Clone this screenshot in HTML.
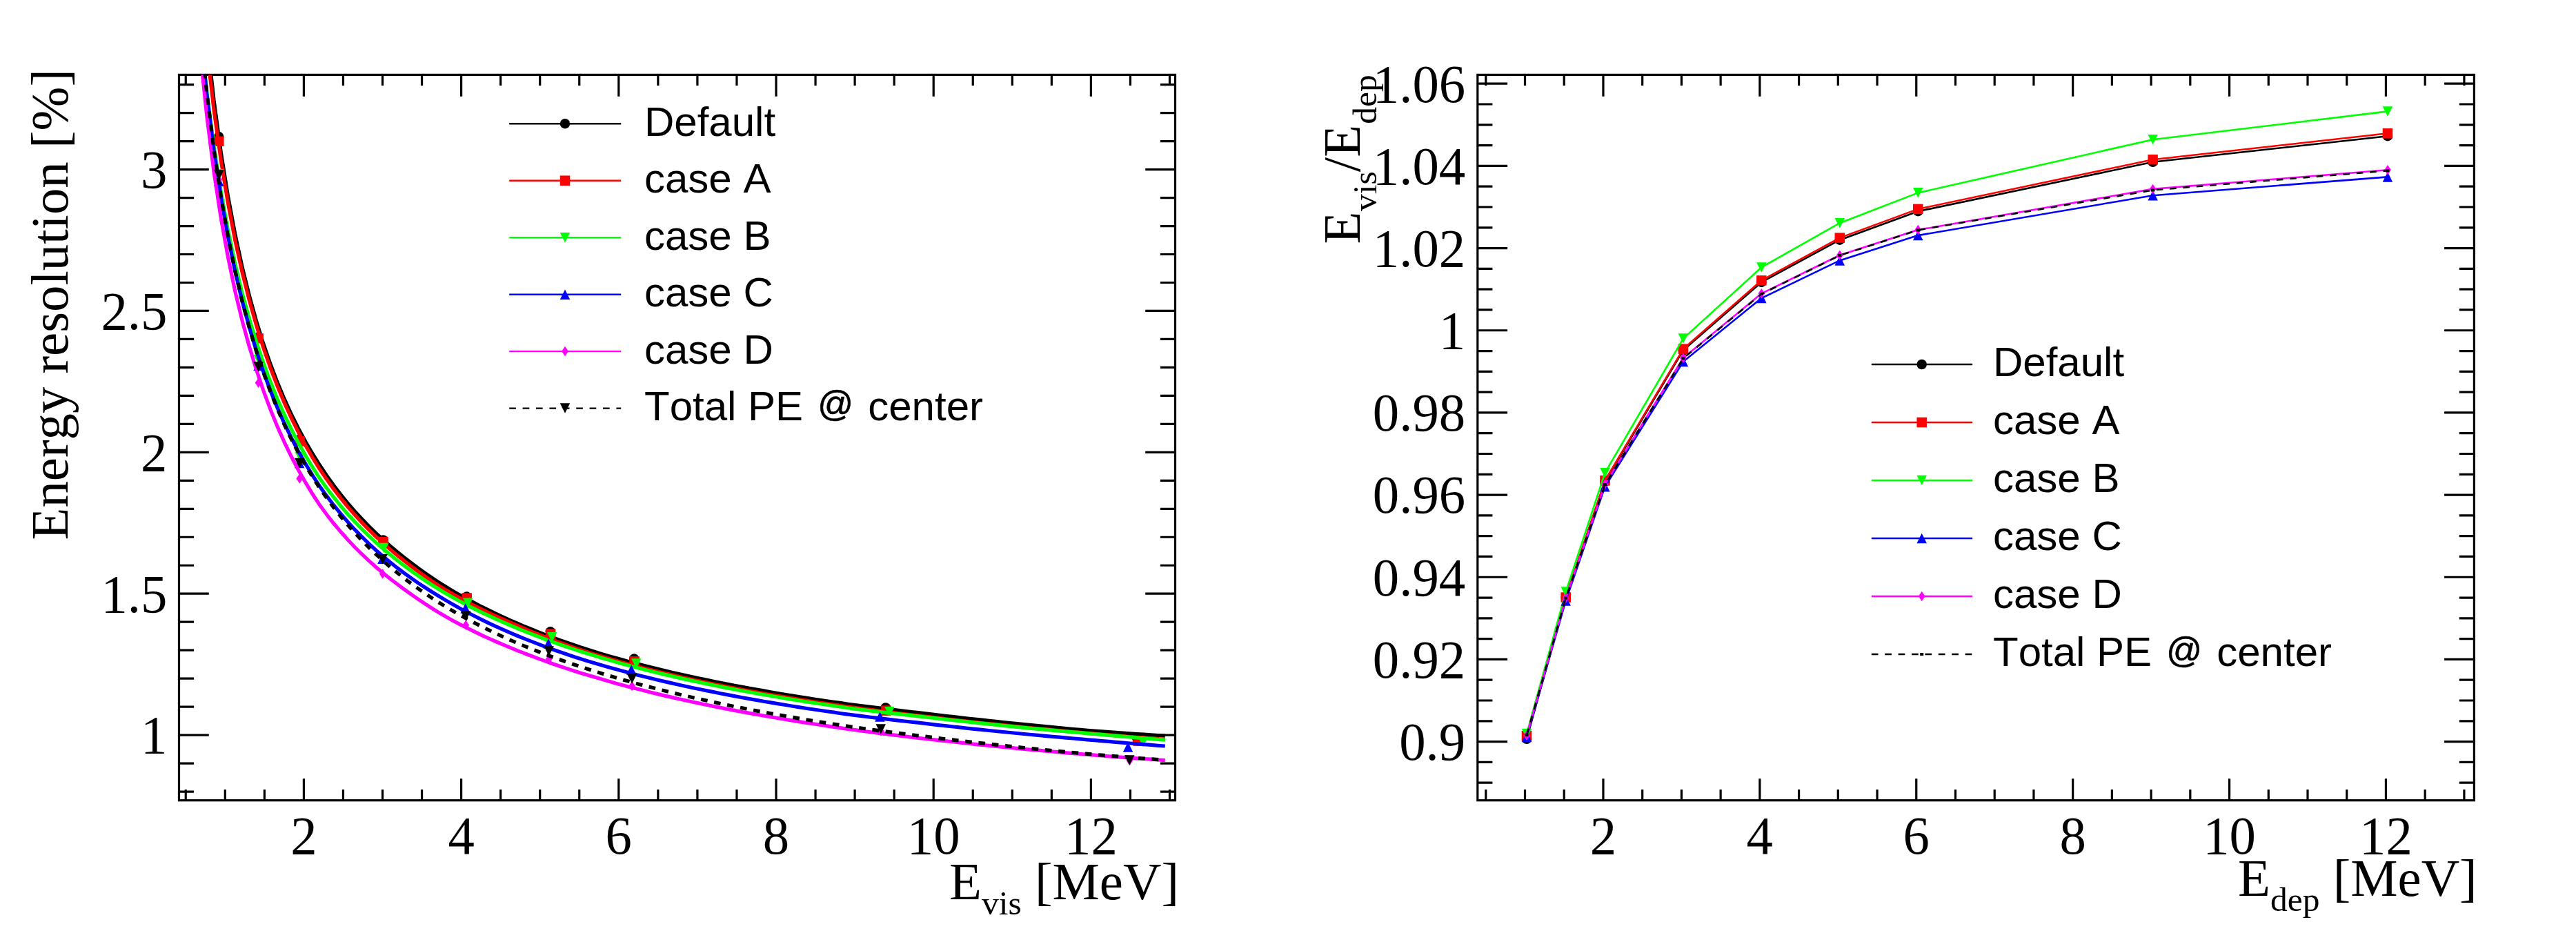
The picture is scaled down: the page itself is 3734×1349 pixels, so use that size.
<!DOCTYPE html>
<html lang="en"><head><meta charset="utf-8"><title>Energy resolution and non-linearity</title>
<style>html,body{margin:0;padding:0;background:#fff}body{width:3734px;height:1349px;overflow:hidden}svg{display:block}text{font-kerning:none}</style></head>
<body>
<svg width="3734" height="1349" viewBox="0 0 3734 1349">
<rect width="3734" height="1349" fill="#fff"/>
<defs><clipPath id="cl"><rect x="259.5" y="108.4" width="1444.00" height="1051.30"/></clipPath><clipPath id="cr"><rect x="2141.8" y="108.4" width="1444.60" height="1051.30"/></clipPath></defs>
<rect x="259.5" y="108.4" width="1444.00" height="1051.30" fill="none" stroke="#000" stroke-width="3.2"/>
<path d="M269.25 1159.7v-15.6M269.25 108.4v15.6M326.30 1159.7v-15.6M326.30 108.4v15.6M383.35 1159.7v-15.6M383.35 108.4v15.6M497.45 1159.7v-15.6M497.45 108.4v15.6M554.50 1159.7v-15.6M554.50 108.4v15.6M611.55 1159.7v-15.6M611.55 108.4v15.6M725.65 1159.7v-15.6M725.65 108.4v15.6M782.70 1159.7v-15.6M782.70 108.4v15.6M839.75 1159.7v-15.6M839.75 108.4v15.6M953.85 1159.7v-15.6M953.85 108.4v15.6M1010.90 1159.7v-15.6M1010.90 108.4v15.6M1067.95 1159.7v-15.6M1067.95 108.4v15.6M1182.05 1159.7v-15.6M1182.05 108.4v15.6M1239.10 1159.7v-15.6M1239.10 108.4v15.6M1296.15 1159.7v-15.6M1296.15 108.4v15.6M1410.25 1159.7v-15.6M1410.25 108.4v15.6M1467.30 1159.7v-15.6M1467.30 108.4v15.6M1524.35 1159.7v-15.6M1524.35 108.4v15.6M1638.45 1159.7v-15.6M1638.45 108.4v15.6M1695.50 1159.7v-15.6M1695.50 108.4v15.6M440.40 1159.7v-31.4M440.40 108.4v31.4M668.60 1159.7v-31.4M668.60 108.4v31.4M896.80 1159.7v-31.4M896.80 108.4v31.4M1125.00 1159.7v-31.4M1125.00 108.4v31.4M1353.20 1159.7v-31.4M1353.20 108.4v31.4M1581.40 1159.7v-31.4M1581.40 108.4v31.4M259.5 1147.05h21.6M1703.5 1147.05h-21.6M259.5 1106.07h21.6M1703.5 1106.07h-21.6M259.5 1024.12h21.6M1703.5 1024.12h-21.6M259.5 983.15h21.6M1703.5 983.15h-21.6M259.5 942.17h21.6M1703.5 942.17h-21.6M259.5 901.20h21.6M1703.5 901.20h-21.6M259.5 819.25h21.6M1703.5 819.25h-21.6M259.5 778.27h21.6M1703.5 778.27h-21.6M259.5 737.30h21.6M1703.5 737.30h-21.6M259.5 696.32h21.6M1703.5 696.32h-21.6M259.5 614.37h21.6M1703.5 614.37h-21.6M259.5 573.40h21.6M1703.5 573.40h-21.6M259.5 532.42h21.6M1703.5 532.42h-21.6M259.5 491.45h21.6M1703.5 491.45h-21.6M259.5 409.50h21.6M1703.5 409.50h-21.6M259.5 368.52h21.6M1703.5 368.52h-21.6M259.5 327.55h21.6M1703.5 327.55h-21.6M259.5 286.57h21.6M1703.5 286.57h-21.6M259.5 204.62h21.6M1703.5 204.62h-21.6M259.5 163.65h21.6M1703.5 163.65h-21.6M259.5 122.67h21.6M1703.5 122.67h-21.6M259.5 1065.10h43.3M1703.5 1065.10h-43.3M259.5 860.22h43.3M1703.5 860.22h-43.3M259.5 655.35h43.3M1703.5 655.35h-43.3M259.5 450.47h43.3M1703.5 450.47h-43.3M259.5 245.60h43.3M1703.5 245.60h-43.3" fill="none" stroke="#000" stroke-width="3.2"/>
<g clip-path="url(#cl)">
<circle cx="317.22" cy="198.07" r="7.25" fill="#000000"/>
<circle cx="374.58" cy="488.42" r="7.25" fill="#000000"/>
<circle cx="434.42" cy="636.91" r="7.25" fill="#000000"/>
<circle cx="555.34" cy="782.50" r="7.25" fill="#000000"/>
<circle cx="676.49" cy="864.61" r="7.25" fill="#000000"/>
<circle cx="797.81" cy="915.30" r="7.25" fill="#000000"/>
<circle cx="919.21" cy="954.51" r="7.25" fill="#000000"/>
<circle cx="1283.75" cy="1025.48" r="7.25" fill="#000000"/>
<circle cx="1648.72" cy="1071.25" r="7.25" fill="#000000"/>
<polyline points="269.2,-390.6 279.5,-200.9 289.7,-57.7 299.9,54.6 310.1,145.5 320.3,220.7 330.5,284.3 340.7,338.8 350.9,386.1 361.2,427.7 371.4,464.5 381.6,497.4 391.8,527.0 402.0,553.8 412.2,578.2 422.4,600.5 432.6,621.0 442.9,640.0 453.1,657.5 463.3,673.8 473.5,689.0 483.7,703.3 493.9,716.6 504.1,729.1 514.3,740.9 524.6,752.1 534.8,762.6 545.0,772.6 555.2,782.0 565.4,791.0 575.6,799.6 585.8,807.7 596.0,815.6 606.3,823.3 616.5,830.7 626.7,837.7 636.9,844.4 647.1,850.8 657.3,856.9 667.5,862.8 677.7,868.4 688.0,873.9 698.2,879.2 708.4,884.2 718.6,889.2 728.8,893.9 739.0,898.5 749.2,903.0 759.4,907.3 769.7,911.5 779.9,915.6 790.1,919.6 800.3,923.4 810.5,927.2 820.7,930.8 830.9,934.3 841.1,937.8 851.4,941.1 861.6,944.3 871.8,947.4 882.0,950.4 892.2,953.3 902.4,956.1 912.6,958.9 922.8,961.6 933.1,964.2 943.3,966.8 953.5,969.3 963.7,971.8 973.9,974.2 984.1,976.5 994.3,978.8 1004.5,981.0 1014.8,983.2 1025.0,985.4 1035.2,987.5 1045.4,989.5 1055.6,991.5 1065.8,993.5 1076.0,995.4 1086.2,997.3 1096.5,999.1 1106.7,1000.9 1116.9,1002.7 1127.1,1004.5 1137.3,1006.2 1147.5,1007.8 1157.7,1009.5 1167.9,1011.1 1178.2,1012.7 1188.4,1014.2 1198.6,1015.8 1208.8,1017.3 1219.0,1018.7 1229.2,1020.2 1239.4,1021.5 1249.6,1022.9 1259.8,1024.2 1270.1,1025.4 1280.3,1026.7 1290.5,1027.9 1300.7,1029.1 1310.9,1030.3 1321.1,1031.5 1331.3,1032.6 1341.5,1033.8 1351.8,1035.1 1362.0,1036.3 1372.2,1037.5 1382.4,1038.7 1392.6,1039.8 1402.8,1041.0 1413.0,1042.1 1423.2,1043.2 1433.5,1044.3 1443.7,1045.4 1453.9,1046.5 1464.1,1047.5 1474.3,1048.6 1484.5,1049.6 1494.7,1050.6 1504.9,1051.6 1515.2,1052.6 1525.4,1053.6 1535.6,1054.6 1545.8,1055.5 1556.0,1056.5 1566.2,1057.4 1576.4,1058.3 1586.6,1059.1 1596.9,1059.9 1607.1,1060.6 1617.3,1061.3 1627.5,1062.0 1637.7,1062.8 1647.9,1063.5 1658.1,1064.1 1668.3,1064.8 1678.6,1065.5 1688.8,1066.2" fill="none" stroke="#000000" stroke-width="5.2"/>
<rect x="310.06" y="197.54" width="14.5" height="14.5" fill="#ff0000"/>
<rect x="367.34" y="483.05" width="14.5" height="14.5" fill="#ff0000"/>
<rect x="427.24" y="632.12" width="14.5" height="14.5" fill="#ff0000"/>
<rect x="548.21" y="777.99" width="14.5" height="14.5" fill="#ff0000"/>
<rect x="669.43" y="859.24" width="14.5" height="14.5" fill="#ff0000"/>
<rect x="790.86" y="911.24" width="14.5" height="14.5" fill="#ff0000"/>
<rect x="912.34" y="951.03" width="14.5" height="14.5" fill="#ff0000"/>
<rect x="1277.12" y="1022.37" width="14.5" height="14.5" fill="#ff0000"/>
<rect x="1642.37" y="1066.25" width="14.5" height="14.5" fill="#ff0000"/>
<polyline points="269.2,-357.7 279.5,-175.2 289.7,-37.2 299.9,71.5 310.1,159.6 320.3,232.7 330.5,294.6 340.7,347.7 350.9,393.9 361.2,434.6 371.4,470.7 381.6,503.3 391.8,532.6 402.0,559.3 412.2,583.6 422.4,605.9 432.6,626.5 442.9,645.5 453.1,663.1 463.3,679.5 473.5,694.6 483.7,708.7 493.9,721.9 504.1,734.4 514.3,746.1 524.6,757.1 534.8,767.6 545.0,777.5 555.2,786.9 565.4,795.9 575.6,804.4 585.8,812.5 596.0,820.4 606.3,828.1 616.5,835.4 626.7,842.4 636.9,849.1 647.1,855.3 657.3,861.2 667.5,866.9 677.7,872.4 688.0,877.7 698.2,882.9 708.4,887.8 718.6,892.5 728.8,897.1 739.0,901.6 749.2,906.1 759.4,910.5 769.7,914.8 779.9,918.9 790.1,923.0 800.3,926.9 810.5,930.7 820.7,934.3 830.9,937.9 841.1,941.4 851.4,944.8 861.6,948.1 871.8,951.1 882.0,954.1 892.2,957.0 902.4,959.9 912.6,962.7 922.8,965.4 933.1,968.0 943.3,970.6 953.5,973.1 963.7,975.5 973.9,977.9 984.1,980.3 994.3,982.6 1004.5,984.8 1014.8,987.0 1025.0,989.1 1035.2,991.2 1045.4,993.3 1055.6,995.3 1065.8,997.2 1076.0,999.2 1086.2,1001.1 1096.5,1002.9 1106.7,1004.7 1116.9,1006.5 1127.1,1008.2 1137.3,1009.9 1147.5,1011.6 1157.7,1013.3 1167.9,1014.9 1178.2,1016.5 1188.4,1018.0 1198.6,1019.5 1208.8,1021.0 1219.0,1022.5 1229.2,1024.0 1239.4,1025.4 1249.6,1026.8 1259.8,1028.1 1270.1,1029.4 1280.3,1030.8 1290.5,1032.0 1300.7,1033.3 1310.9,1034.6 1321.1,1035.8 1331.3,1037.0 1341.5,1038.2 1351.8,1039.4 1362.0,1040.6 1372.2,1041.8 1382.4,1043.0 1392.6,1044.1 1402.8,1045.3 1413.0,1046.4 1423.2,1047.5 1433.5,1048.6 1443.7,1049.7 1453.9,1050.7 1464.1,1051.7 1474.3,1052.8 1484.5,1053.8 1494.7,1054.8 1504.9,1055.8 1515.2,1056.7 1525.4,1057.7 1535.6,1058.6 1545.8,1059.6 1556.0,1060.5 1566.2,1061.4 1576.4,1062.3 1586.6,1063.2 1596.9,1064.1 1607.1,1064.9 1617.3,1065.8 1627.5,1066.6 1637.7,1067.5 1647.9,1068.3 1658.1,1069.1 1668.3,1069.9 1678.6,1070.7 1688.8,1071.5" fill="none" stroke="#ff0000" stroke-width="5.2"/>
<path d="M310.13 244.91h14.5L317.38 259.41z" fill="#00ff00"/>
<path d="M367.57 514.11h14.5L374.82 528.61z" fill="#00ff00"/>
<path d="M427.66 654.66h14.5L434.91 669.16z" fill="#00ff00"/>
<path d="M549.08 786.84h14.5L556.33 801.34z" fill="#00ff00"/>
<path d="M670.90 866.46h14.5L678.15 880.96z" fill="#00ff00"/>
<path d="M792.92 916.12h14.5L800.17 930.62z" fill="#00ff00"/>
<path d="M915.05 954.22h14.5L922.30 968.72z" fill="#00ff00"/>
<path d="M1282.14 1024.00h14.5L1289.39 1038.50z" fill="#00ff00"/>
<path d="M1649.72 1067.77h14.5L1656.97 1082.27z" fill="#00ff00"/>
<polyline points="269.2,-238.4 279.5,-81.8 289.7,38.3 299.9,133.9 310.1,212.2 320.3,277.7 330.5,333.5 340.7,381.8 350.9,424.1 361.2,461.5 371.4,494.8 381.6,525.2 391.8,552.8 402.0,578.0 412.2,601.0 422.4,622.2 432.6,641.9 442.9,660.1 453.1,677.1 463.3,692.9 473.5,707.2 483.7,720.5 493.9,733.1 504.1,744.9 514.3,756.1 524.6,766.6 534.8,776.6 545.0,786.1 555.2,795.1 565.4,803.6 575.6,811.8 585.8,819.6 596.0,827.1 606.3,834.4 616.5,841.3 626.7,848.0 636.9,854.3 647.1,860.4 657.3,866.2 667.5,871.8 677.7,877.2 688.0,882.4 698.2,887.4 708.4,892.2 718.6,896.9 728.8,901.4 739.0,905.8 749.2,910.1 759.4,914.3 769.7,918.4 779.9,922.3 790.1,926.2 800.3,929.9 810.5,933.5 820.7,937.0 830.9,940.4 841.1,943.8 851.4,947.0 861.6,950.1 871.8,953.2 882.0,956.1 892.2,959.0 902.4,961.9 912.6,964.6 922.8,967.3 933.1,969.9 943.3,972.5 953.5,975.0 963.7,977.4 973.9,979.8 984.1,982.1 994.3,984.4 1004.5,986.6 1014.8,988.8 1025.0,990.9 1035.2,993.0 1045.4,995.1 1055.6,997.1 1065.8,999.0 1076.0,1001.0 1086.2,1002.8 1096.5,1004.7 1106.7,1006.5 1116.9,1008.3 1127.1,1010.0 1137.3,1011.7 1147.5,1013.4 1157.7,1015.0 1167.9,1016.7 1178.2,1018.2 1188.4,1019.8 1198.6,1021.3 1208.8,1022.8 1219.0,1024.3 1229.2,1025.8 1239.4,1027.1 1249.6,1028.4 1259.8,1029.6 1270.1,1030.9 1280.3,1032.1 1290.5,1033.3 1300.7,1034.4 1310.9,1035.6 1321.1,1036.7 1331.3,1037.8 1341.5,1039.0 1351.8,1040.2 1362.0,1041.4 1372.2,1042.5 1382.4,1043.7 1392.6,1044.8 1402.8,1045.9 1413.0,1047.0 1423.2,1048.1 1433.5,1049.2 1443.7,1050.2 1453.9,1051.3 1464.1,1052.3 1474.3,1053.3 1484.5,1054.3 1494.7,1055.3 1504.9,1056.2 1515.2,1057.2 1525.4,1058.1 1535.6,1059.0 1545.8,1060.0 1556.0,1060.9 1566.2,1061.7 1576.4,1062.6 1586.6,1063.5 1596.9,1064.4 1607.1,1065.3 1617.3,1066.2 1627.5,1067.1 1637.7,1068.0 1647.9,1068.8 1658.1,1069.7 1668.3,1070.5 1678.6,1071.3 1688.8,1072.1" fill="none" stroke="#00ff00" stroke-width="5.2"/>
<path d="M310.03 270.06h14.5L317.28 255.56z" fill="#0000ff"/>
<path d="M367.19 537.22h14.5L374.44 522.72z" fill="#0000ff"/>
<path d="M426.89 678.17h14.5L434.14 663.67z" fill="#0000ff"/>
<path d="M547.14 817.08h14.5L554.39 802.58z" fill="#0000ff"/>
<path d="M667.46 888.66h14.5L674.71 874.16z" fill="#0000ff"/>
<path d="M787.71 939.71h14.5L794.96 925.21z" fill="#0000ff"/>
<path d="M907.93 977.86h14.5L915.18 963.36z" fill="#0000ff"/>
<path d="M1268.15 1045.84h14.5L1275.40 1031.34z" fill="#0000ff"/>
<path d="M1627.84 1089.76h14.5L1635.09 1075.26z" fill="#0000ff"/>
<polyline points="269.2,-252.4 279.5,-87.3 289.7,38.3 299.9,137.7 310.1,218.6 320.3,286.1 330.5,343.4 340.7,392.7 350.9,435.8 361.2,473.8 371.4,507.6 381.6,538.1 391.8,565.7 402.0,590.7 412.2,613.7 422.4,634.7 432.6,654.2 442.9,672.1 453.1,688.9 463.3,704.5 473.5,718.7 483.7,732.0 493.9,744.5 504.1,756.3 514.3,767.4 524.6,777.9 534.8,787.8 545.0,797.2 555.2,806.1 565.4,814.6 575.6,822.7 585.8,830.4 596.0,837.7 606.3,844.8 616.5,851.5 626.7,858.0 636.9,864.2 647.1,870.4 657.3,876.3 667.5,882.0 677.7,887.5 688.0,892.8 698.2,897.9 708.4,902.8 718.6,907.6 728.8,912.2 739.0,916.7 749.2,921.0 759.4,925.2 769.7,929.2 779.9,933.2 790.1,937.0 800.3,940.7 810.5,944.3 820.7,947.8 830.9,951.2 841.1,954.5 851.4,957.7 861.6,960.8 871.8,963.8 882.0,966.7 892.2,969.6 902.4,972.3 912.6,975.0 922.8,977.7 933.1,980.2 943.3,982.8 953.5,985.2 963.7,987.6 973.9,989.9 984.1,992.2 994.3,994.5 1004.5,996.7 1014.8,998.8 1025.0,1000.9 1035.2,1002.9 1045.4,1005.0 1055.6,1006.9 1065.8,1008.9 1076.0,1010.7 1086.2,1012.6 1096.5,1014.4 1106.7,1016.2 1116.9,1017.9 1127.1,1019.6 1137.3,1021.3 1147.5,1023.0 1157.7,1024.6 1167.9,1026.2 1178.2,1027.7 1188.4,1029.3 1198.6,1030.8 1208.8,1032.2 1219.0,1033.7 1229.2,1035.1 1239.4,1036.4 1249.6,1037.7 1259.8,1039.0 1270.1,1040.2 1280.3,1041.4 1290.5,1042.6 1300.7,1043.8 1310.9,1045.0 1321.1,1046.1 1331.3,1047.2 1341.5,1048.4 1351.8,1049.6 1362.0,1050.8 1372.2,1051.9 1382.4,1053.0 1392.6,1054.2 1402.8,1055.3 1413.0,1056.3 1423.2,1057.4 1433.5,1058.5 1443.7,1059.5 1453.9,1060.5 1464.1,1061.5 1474.3,1062.5 1484.5,1063.5 1494.7,1064.5 1504.9,1065.4 1515.2,1066.4 1525.4,1067.3 1535.6,1068.2 1545.8,1069.1 1556.0,1070.0 1566.2,1070.9 1576.4,1071.8 1586.6,1072.7 1596.9,1073.6 1607.1,1074.4 1617.3,1075.3 1627.5,1076.1 1637.7,1077.0 1647.9,1077.8 1658.1,1078.6 1668.3,1079.4 1678.6,1080.3 1688.8,1081.0" fill="none" stroke="#0000ff" stroke-width="5.2"/>
<path d="M317.32 252.69L322.14 259.94L317.32 267.19L312.50 259.94z" fill="#ff00ff"/>
<path d="M374.55 547.42L379.38 554.67L374.55 561.92L369.73 554.67z" fill="#ff00ff"/>
<path d="M434.28 686.21L439.10 693.46L434.28 700.71L429.46 693.46z" fill="#ff00ff"/>
<path d="M554.70 824.29L559.52 831.54L554.70 838.79L549.88 831.54z" fill="#ff00ff"/>
<path d="M675.23 898.46L680.05 905.71L675.23 912.96L670.41 905.71z" fill="#ff00ff"/>
<path d="M795.69 947.75L800.51 955.00L795.69 962.25L790.87 955.00z" fill="#ff00ff"/>
<path d="M916.10 986.76L920.92 994.01L916.10 1001.26L911.28 994.01z" fill="#ff00ff"/>
<path d="M1277.00 1052.36L1281.82 1059.61L1277.00 1066.86L1272.18 1059.61z" fill="#ff00ff"/>
<path d="M1637.42 1094.73L1642.24 1101.98L1637.42 1109.23L1632.60 1101.98z" fill="#ff00ff"/>
<polyline points="269.2,-217.6 279.5,-53.7 289.7,70.9 299.9,169.3 310.1,249.5 320.3,316.2 330.5,372.8 340.7,421.6 350.9,464.2 361.2,501.7 371.4,535.0 381.6,565.4 391.8,592.9 402.0,617.9 412.2,640.8 422.4,661.8 432.6,681.2 442.9,699.2 453.1,716.0 463.3,731.6 473.5,745.5 483.7,758.5 493.9,770.6 504.1,782.1 514.3,792.8 524.6,803.0 534.8,812.6 545.0,821.7 555.2,830.3 565.4,838.5 575.6,846.3 585.8,853.8 596.0,861.2 606.3,868.3 616.5,875.2 626.7,881.8 636.9,888.1 647.1,894.0 657.3,899.7 667.5,905.1 677.7,910.3 688.0,915.4 698.2,920.3 708.4,925.0 718.6,929.5 728.8,933.9 739.0,938.1 749.2,942.3 759.4,946.4 769.7,950.3 779.9,954.1 790.1,957.9 800.3,961.5 810.5,965.0 820.7,968.4 830.9,971.7 841.1,974.9 851.4,978.0 861.6,981.1 871.8,984.1 882.0,987.0 892.2,989.9 902.4,992.7 912.6,995.4 922.8,998.0 933.1,1000.6 943.3,1003.2 953.5,1005.6 963.7,1008.1 973.9,1010.4 984.1,1012.7 994.3,1015.0 1004.5,1017.2 1014.8,1019.4 1025.0,1021.5 1035.2,1023.6 1045.4,1025.6 1055.6,1027.6 1065.8,1029.6 1076.0,1031.5 1086.2,1033.4 1096.5,1035.2 1106.7,1037.0 1116.9,1038.8 1127.1,1040.5 1137.3,1042.2 1147.5,1043.9 1157.7,1045.6 1167.9,1047.2 1178.2,1048.8 1188.4,1050.3 1198.6,1051.9 1208.8,1053.4 1219.0,1054.9 1229.2,1056.3 1239.4,1057.7 1249.6,1059.1 1259.8,1060.5 1270.1,1061.8 1280.3,1063.1 1290.5,1064.4 1300.7,1065.6 1310.9,1066.9 1321.1,1068.1 1331.3,1069.3 1341.5,1070.5 1351.8,1071.7 1362.0,1072.8 1372.2,1073.9 1382.4,1075.0 1392.6,1076.1 1402.8,1077.2 1413.0,1078.3 1423.2,1079.3 1433.5,1080.4 1443.7,1081.4 1453.9,1082.4 1464.1,1083.4 1474.3,1084.3 1484.5,1085.3 1494.7,1086.3 1504.9,1087.2 1515.2,1088.1 1525.4,1089.0 1535.6,1089.9 1545.8,1090.8 1556.0,1091.7 1566.2,1092.5 1576.4,1093.4 1586.6,1094.2 1596.9,1095.0 1607.1,1095.8 1617.3,1096.6 1627.5,1097.3 1637.7,1098.1 1647.9,1098.8 1658.1,1099.5 1668.3,1100.2 1678.6,1101.0 1688.8,1101.7" fill="none" stroke="#ff00ff" stroke-width="5.2"/>
<path d="M310.09 246.14h14.5L317.34 260.64z" fill="#000000"/>
<path d="M367.30 524.36h14.5L374.55 538.86z" fill="#000000"/>
<path d="M427.01 663.67h14.5L434.26 678.17z" fill="#000000"/>
<path d="M547.42 803.03h14.5L554.67 817.53z" fill="#000000"/>
<path d="M667.92 885.35h14.5L675.17 899.85z" fill="#000000"/>
<path d="M788.41 936.24h14.5L795.66 950.74z" fill="#000000"/>
<path d="M908.82 976.27h14.5L916.07 990.77z" fill="#000000"/>
<path d="M1269.47 1049.16h14.5L1276.72 1063.66z" fill="#000000"/>
<path d="M1629.94 1094.24h14.5L1637.19 1108.74z" fill="#000000"/>
<polyline points="269.2,-254.3 279.5,-89.6 289.7,36.0 299.9,135.6 310.1,216.9 320.3,284.7 330.5,342.4 340.7,392.2 350.9,435.8 361.2,474.2 371.4,508.4 381.6,539.2 391.8,567.0 402.0,592.2 412.2,615.4 422.4,636.6 432.6,656.2 442.9,674.3 453.1,691.2 463.3,706.9 473.5,721.6 483.7,735.4 493.9,748.4 504.1,760.6 514.3,772.1 524.6,783.0 534.8,793.3 545.0,803.1 555.2,812.5 565.4,821.3 575.6,829.8 585.8,837.9 596.0,845.6 606.3,853.0 616.5,860.1 626.7,866.9 636.9,873.5 647.1,879.8 657.3,885.8 667.5,891.6 677.7,897.2 688.0,902.6 698.2,907.9 708.4,912.9 718.6,917.8 728.8,922.5 739.0,927.1 749.2,931.5 759.4,935.8 769.7,940.0 779.9,944.0 790.1,947.9 800.3,951.7 810.5,955.4 820.7,959.0 830.9,962.5 841.1,965.9 851.4,969.2 861.6,972.5 871.8,975.7 882.0,978.8 892.2,981.8 902.4,984.7 912.6,987.6 922.8,990.4 933.1,993.2 943.3,995.8 953.5,998.5 963.7,1001.0 973.9,1003.5 984.1,1006.0 994.3,1008.4 1004.5,1010.7 1014.8,1013.0 1025.0,1015.3 1035.2,1017.5 1045.4,1019.7 1055.6,1021.8 1065.8,1023.9 1076.0,1025.9 1086.2,1027.9 1096.5,1029.9 1106.7,1031.8 1116.9,1033.7 1127.1,1035.5 1137.3,1037.3 1147.5,1039.1 1157.7,1040.9 1167.9,1042.6 1178.2,1044.3 1188.4,1046.0 1198.6,1047.6 1208.8,1049.2 1219.0,1050.8 1229.2,1052.3 1239.4,1053.8 1249.6,1055.3 1259.8,1056.7 1270.1,1058.1 1280.3,1059.4 1290.5,1060.8 1300.7,1062.1 1310.9,1063.4 1321.1,1064.7 1331.3,1066.0 1341.5,1067.2 1351.8,1068.5 1362.0,1069.8 1372.2,1071.0 1382.4,1072.2 1392.6,1073.4 1402.8,1074.6 1413.0,1075.8 1423.2,1076.9 1433.5,1078.0 1443.7,1079.2 1453.9,1080.3 1464.1,1081.3 1474.3,1082.4 1484.5,1083.5 1494.7,1084.5 1504.9,1085.6 1515.2,1086.6 1525.4,1087.6 1535.6,1088.6 1545.8,1089.5 1556.0,1090.5 1566.2,1091.5 1576.4,1092.4 1586.6,1093.3 1596.9,1094.1 1607.1,1095.0 1617.3,1095.8 1627.5,1096.6 1637.7,1097.5 1647.9,1098.3 1658.1,1099.1 1668.3,1099.8 1678.6,1100.6 1688.8,1101.4" fill="none" stroke="#000000" stroke-width="5.2" stroke-dasharray="9.7 9.7" stroke-dashoffset="9.7"/>
</g>
<g font-family="Liberation Serif, serif" font-size="76.8" fill="#000">
<text transform="translate(440.4 1236.8) scale(1 1.025)" text-anchor="middle">2</text>
<text transform="translate(668.6 1236.8) scale(1 1.025)" text-anchor="middle">4</text>
<text transform="translate(896.8 1236.8) scale(1 1.025)" text-anchor="middle">6</text>
<text transform="translate(1125.0 1236.8) scale(1 1.025)" text-anchor="middle">8</text>
<text transform="translate(1353.2 1236.8) scale(1 1.025)" text-anchor="middle">10</text>
<text transform="translate(1581.4 1236.8) scale(1 1.025)" text-anchor="middle">12</text>
<text transform="translate(242.4 1091.4) scale(1 1.025)" text-anchor="end">1</text>
<text transform="translate(242.4 886.5) scale(1 1.025)" text-anchor="end">1.5</text>
<text transform="translate(242.4 681.6) scale(1 1.025)" text-anchor="end">2</text>
<text transform="translate(242.4 476.8) scale(1 1.025)" text-anchor="end">2.5</text>
<text transform="translate(242.4 271.9) scale(1 1.025)" text-anchor="end">3</text>
<text x="1709" y="1303" text-anchor="end">E<tspan font-size="49.5" dy="22">vis</tspan><tspan dy="-22"> [MeV]</tspan></text>
<text transform="translate(98.3 100) rotate(-90)" text-anchor="end">Energy resolution [%]</text>
</g>
<path d="M738.2 179.2H900.2" stroke="#000000" stroke-width="2.4" fill="none"/>
<circle cx="819.00" cy="179.20" r="7.25" fill="#000000"/>
<text x="934" y="196.6" font-family="Liberation Sans, sans-serif" font-size="60" fill="#000">Default</text>
<path d="M738.2 261.7H900.2" stroke="#ff0000" stroke-width="2.4" fill="none"/>
<rect x="811.75" y="254.45" width="14.5" height="14.5" fill="#ff0000"/>
<text x="934" y="279.1" font-family="Liberation Sans, sans-serif" font-size="60" fill="#000">case A</text>
<path d="M738.2 344.2H900.2" stroke="#00ff00" stroke-width="2.4" fill="none"/>
<path d="M811.75 336.95h14.5L819.00 351.45z" fill="#00ff00"/>
<text x="934" y="361.6" font-family="Liberation Sans, sans-serif" font-size="60" fill="#000">case B</text>
<path d="M738.2 426.7H900.2" stroke="#0000ff" stroke-width="2.4" fill="none"/>
<path d="M811.75 433.95h14.5L819.00 419.45z" fill="#0000ff"/>
<text x="934" y="444.1" font-family="Liberation Sans, sans-serif" font-size="60" fill="#000">case C</text>
<path d="M738.2 509.1H900.2" stroke="#ff00ff" stroke-width="2.4" fill="none"/>
<path d="M819.00 501.85L823.82 509.10L819.00 516.35L814.18 509.10z" fill="#ff00ff"/>
<text x="934" y="526.5" font-family="Liberation Sans, sans-serif" font-size="60" fill="#000">case D</text>
<path d="M738.2 591.6H900.2" stroke="#000000" stroke-width="2.4" fill="none" stroke-dasharray="9.7 9.7"/>
<path d="M811.75 584.35h14.5L819.00 598.85z" fill="#000000"/>
<text x="934" y="609.0" font-family="Liberation Sans, sans-serif" font-size="60" fill="#000">Total PE <tspan font-size="51" dx="4.5" dy="-5.6" stroke="#000" stroke-width="0.7">@</tspan><tspan dx="4.5" dy="5.6"> </tspan>center</text>
<rect x="2141.8" y="108.4" width="1444.60" height="1051.30" fill="none" stroke="#000" stroke-width="3.2"/>
<path d="M2153.78 1159.7v-15.6M2153.78 108.4v15.6M2210.50 1159.7v-15.6M2210.50 108.4v15.6M2267.22 1159.7v-15.6M2267.22 108.4v15.6M2380.68 1159.7v-15.6M2380.68 108.4v15.6M2437.40 1159.7v-15.6M2437.40 108.4v15.6M2494.12 1159.7v-15.6M2494.12 108.4v15.6M2607.57 1159.7v-15.6M2607.57 108.4v15.6M2664.30 1159.7v-15.6M2664.30 108.4v15.6M2721.03 1159.7v-15.6M2721.03 108.4v15.6M2834.47 1159.7v-15.6M2834.47 108.4v15.6M2891.20 1159.7v-15.6M2891.20 108.4v15.6M2947.93 1159.7v-15.6M2947.93 108.4v15.6M3061.38 1159.7v-15.6M3061.38 108.4v15.6M3118.10 1159.7v-15.6M3118.10 108.4v15.6M3174.82 1159.7v-15.6M3174.82 108.4v15.6M3288.28 1159.7v-15.6M3288.28 108.4v15.6M3345.00 1159.7v-15.6M3345.00 108.4v15.6M3401.73 1159.7v-15.6M3401.73 108.4v15.6M3515.18 1159.7v-15.6M3515.18 108.4v15.6M3571.90 1159.7v-15.6M3571.90 108.4v15.6M2323.95 1159.7v-31.4M2323.95 108.4v31.4M2550.85 1159.7v-31.4M2550.85 108.4v31.4M2777.75 1159.7v-31.4M2777.75 108.4v31.4M3004.65 1159.7v-31.4M3004.65 108.4v31.4M3231.55 1159.7v-31.4M3231.55 108.4v31.4M3458.45 1159.7v-31.4M3458.45 108.4v31.4M2141.8 1134.19h21.6M3586.4 1134.19h-21.6M2141.8 1104.39h21.6M3586.4 1104.39h-21.6M2141.8 1044.81h21.6M3586.4 1044.81h-21.6M2141.8 1015.01h21.6M3586.4 1015.01h-21.6M2141.8 985.22h21.6M3586.4 985.22h-21.6M2141.8 925.63h21.6M3586.4 925.63h-21.6M2141.8 895.84h21.6M3586.4 895.84h-21.6M2141.8 866.05h21.6M3586.4 866.05h-21.6M2141.8 806.46h21.6M3586.4 806.46h-21.6M2141.8 776.67h21.6M3586.4 776.67h-21.6M2141.8 746.88h21.6M3586.4 746.88h-21.6M2141.8 687.29h21.6M3586.4 687.29h-21.6M2141.8 657.50h21.6M3586.4 657.50h-21.6M2141.8 627.71h21.6M3586.4 627.71h-21.6M2141.8 568.12h21.6M3586.4 568.12h-21.6M2141.8 538.33h21.6M3586.4 538.33h-21.6M2141.8 508.53h21.6M3586.4 508.53h-21.6M2141.8 448.95h21.6M3586.4 448.95h-21.6M2141.8 419.15h21.6M3586.4 419.15h-21.6M2141.8 389.36h21.6M3586.4 389.36h-21.6M2141.8 329.78h21.6M3586.4 329.78h-21.6M2141.8 299.98h21.6M3586.4 299.98h-21.6M2141.8 270.19h21.6M3586.4 270.19h-21.6M2141.8 210.60h21.6M3586.4 210.60h-21.6M2141.8 180.81h21.6M3586.4 180.81h-21.6M2141.8 151.02h21.6M3586.4 151.02h-21.6M2141.8 1074.60h43.3M3586.4 1074.60h-43.3M2141.8 955.43h43.3M3586.4 955.43h-43.3M2141.8 836.26h43.3M3586.4 836.26h-43.3M2141.8 717.08h43.3M3586.4 717.08h-43.3M2141.8 597.91h43.3M3586.4 597.91h-43.3M2141.8 478.74h43.3M3586.4 478.74h-43.3M2141.8 359.57h43.3M3586.4 359.57h-43.3M2141.8 240.40h43.3M3586.4 240.40h-43.3M2141.8 121.22h43.3M3586.4 121.22h-43.3" fill="none" stroke="#000" stroke-width="3.2"/>
<g clip-path="url(#cr)">
<polyline points="2213.0,1070.8 2269.7,865.8 2326.4,698.0 2439.9,507.6 2553.3,408.9 2666.8,347.7 2780.2,306.2 3120.6,234.8 3460.9,197.2" fill="none" stroke="#000000" stroke-width="2.6"/>
<circle cx="2213.00" cy="1070.79" r="7.25" fill="#000000"/>
<circle cx="2269.72" cy="865.75" r="7.25" fill="#000000"/>
<circle cx="2326.45" cy="698.02" r="7.25" fill="#000000"/>
<circle cx="2439.90" cy="507.64" r="7.25" fill="#000000"/>
<circle cx="2553.35" cy="408.91" r="7.25" fill="#000000"/>
<circle cx="2666.80" cy="347.71" r="7.25" fill="#000000"/>
<circle cx="2780.25" cy="306.18" r="7.25" fill="#000000"/>
<circle cx="3120.60" cy="234.79" r="7.25" fill="#000000"/>
<circle cx="3460.95" cy="197.20" r="7.25" fill="#000000"/>
<polyline points="2213.0,1066.3 2269.7,865.5 2326.4,696.3 2439.9,505.6 2553.3,406.4 2666.8,344.6 2780.2,302.9 3120.6,231.2 3460.9,193.3" fill="none" stroke="#ff0000" stroke-width="2.6"/>
<rect x="2205.75" y="1059.01" width="14.5" height="14.5" fill="#ff0000"/>
<rect x="2262.47" y="858.26" width="14.5" height="14.5" fill="#ff0000"/>
<rect x="2319.20" y="689.04" width="14.5" height="14.5" fill="#ff0000"/>
<rect x="2432.65" y="498.36" width="14.5" height="14.5" fill="#ff0000"/>
<rect x="2546.10" y="399.15" width="14.5" height="14.5" fill="#ff0000"/>
<rect x="2659.55" y="337.36" width="14.5" height="14.5" fill="#ff0000"/>
<rect x="2773.00" y="295.65" width="14.5" height="14.5" fill="#ff0000"/>
<rect x="3113.35" y="223.97" width="14.5" height="14.5" fill="#ff0000"/>
<rect x="3453.70" y="186.07" width="14.5" height="14.5" fill="#ff0000"/>
<polyline points="2213.0,1063.0 2269.7,857.6 2326.4,685.3 2439.9,490.5 2553.3,387.4 2666.8,323.2 2780.2,279.4 3120.6,202.2 3460.9,161.4" fill="none" stroke="#00ff00" stroke-width="2.6"/>
<path d="M2205.75 1055.73h14.5L2213.00 1070.23z" fill="#00ff00"/>
<path d="M2262.47 850.34h14.5L2269.72 864.84z" fill="#00ff00"/>
<path d="M2319.20 678.07h14.5L2326.45 692.57z" fill="#00ff00"/>
<path d="M2432.65 483.23h14.5L2439.90 497.73z" fill="#00ff00"/>
<path d="M2546.10 380.14h14.5L2553.35 394.64z" fill="#00ff00"/>
<path d="M2659.55 315.97h14.5L2666.80 330.47z" fill="#00ff00"/>
<path d="M2773.00 272.12h14.5L2780.25 286.62z" fill="#00ff00"/>
<path d="M3113.35 194.95h14.5L3120.60 209.45z" fill="#00ff00"/>
<path d="M3453.70 154.13h14.5L3460.95 168.63z" fill="#00ff00"/>
<polyline points="2213.0,1068.0 2269.7,870.5 2326.4,705.3 2439.9,524.0 2553.3,432.0 2666.8,377.4 2780.2,341.1 3120.6,283.2 3460.9,256.4" fill="none" stroke="#0000ff" stroke-width="2.6"/>
<path d="M2205.75 1075.30h14.5L2213.00 1060.80z" fill="#0000ff"/>
<path d="M2262.47 877.77h14.5L2269.72 863.27z" fill="#0000ff"/>
<path d="M2319.20 712.54h14.5L2326.45 698.04z" fill="#0000ff"/>
<path d="M2432.65 531.28h14.5L2439.90 516.78z" fill="#0000ff"/>
<path d="M2546.10 439.27h14.5L2553.35 424.77z" fill="#0000ff"/>
<path d="M2659.55 384.63h14.5L2666.80 370.13z" fill="#0000ff"/>
<path d="M2773.00 348.35h14.5L2780.25 333.85z" fill="#0000ff"/>
<path d="M3113.35 290.43h14.5L3120.60 275.93z" fill="#0000ff"/>
<path d="M3453.70 263.67h14.5L3460.95 249.17z" fill="#0000ff"/>
<polyline points="2213.0,1065.8 2269.7,866.6 2326.4,701.6 2439.9,518.7 2553.3,425.3 2666.8,369.8 2780.2,333.1 3120.6,273.9 3460.9,246.3" fill="none" stroke="#ff00ff" stroke-width="2.6"/>
<path d="M2213.00 1058.53L2217.82 1065.78L2213.00 1073.03L2208.17 1065.78z" fill="#ff00ff"/>
<path d="M2269.72 859.39L2274.54 866.64L2269.72 873.89L2264.90 866.64z" fill="#ff00ff"/>
<path d="M2326.45 694.34L2331.27 701.59L2326.45 708.84L2321.62 701.59z" fill="#ff00ff"/>
<path d="M2439.90 511.41L2444.72 518.66L2439.90 525.91L2435.07 518.66z" fill="#ff00ff"/>
<path d="M2553.35 418.04L2558.17 425.29L2553.35 432.54L2548.52 425.29z" fill="#ff00ff"/>
<path d="M2666.80 362.51L2671.62 369.76L2666.80 377.01L2661.97 369.76z" fill="#ff00ff"/>
<path d="M2780.25 325.86L2785.07 333.11L2780.25 340.36L2775.42 333.11z" fill="#ff00ff"/>
<path d="M3120.60 266.63L3125.42 273.88L3120.60 281.13L3115.77 273.88z" fill="#ff00ff"/>
<path d="M3460.95 239.05L3465.77 246.30L3460.95 253.55L3456.12 246.30z" fill="#ff00ff"/>
<polyline points="2213.0,1065.1 2269.7,866.6 2326.4,702.2 2439.9,519.3 2553.3,426.0 2666.8,370.1 2780.2,333.4 3120.6,275.5 3460.9,247.3" fill="none" stroke="#000000" stroke-width="2.6" stroke-dasharray="9.7 9.7"/>
<rect x="2210.50" y="1063.07" width="5" height="4" fill="#000000"/>
<rect x="2267.22" y="864.64" width="5" height="4" fill="#000000"/>
<rect x="2323.95" y="700.19" width="5" height="4" fill="#000000"/>
<rect x="2437.40" y="517.26" width="5" height="4" fill="#000000"/>
<rect x="2550.85" y="424.01" width="5" height="4" fill="#000000"/>
<rect x="2664.30" y="368.11" width="5" height="4" fill="#000000"/>
<rect x="2777.75" y="331.41" width="5" height="4" fill="#000000"/>
<rect x="3118.10" y="273.49" width="5" height="4" fill="#000000"/>
<rect x="3458.45" y="245.31" width="5" height="4" fill="#000000"/>
</g>
<g font-family="Liberation Serif, serif" font-size="76.8" fill="#000">
<text transform="translate(2323.9 1236.8) scale(1 1.025)" text-anchor="middle">2</text>
<text transform="translate(2550.8 1236.8) scale(1 1.025)" text-anchor="middle">4</text>
<text transform="translate(2777.8 1236.8) scale(1 1.025)" text-anchor="middle">6</text>
<text transform="translate(3004.7 1236.8) scale(1 1.025)" text-anchor="middle">8</text>
<text transform="translate(3231.6 1236.8) scale(1 1.025)" text-anchor="middle">10</text>
<text transform="translate(3458.4 1236.8) scale(1 1.025)" text-anchor="middle">12</text>
<text transform="translate(2124.2 1100.9) scale(1 1.025)" text-anchor="end">0.9</text>
<text transform="translate(2124.2 981.7) scale(1 1.025)" text-anchor="end">0.92</text>
<text transform="translate(2124.2 862.6) scale(1 1.025)" text-anchor="end">0.94</text>
<text transform="translate(2124.2 743.4) scale(1 1.025)" text-anchor="end">0.96</text>
<text transform="translate(2124.2 624.2) scale(1 1.025)" text-anchor="end">0.98</text>
<text transform="translate(2124.2 505.0) scale(1 1.025)" text-anchor="end">1</text>
<text transform="translate(2124.2 385.9) scale(1 1.025)" text-anchor="end">1.02</text>
<text transform="translate(2124.2 266.7) scale(1 1.025)" text-anchor="end">1.04</text>
<text transform="translate(2124.2 147.5) scale(1 1.025)" text-anchor="end">1.06</text>
<text x="3590.7" y="1298" text-anchor="end">E<tspan font-size="49.5" dy="22">dep</tspan><tspan dy="-22"> [MeV]</tspan></text>
<text transform="translate(1971.2 0) rotate(-90)"><tspan x="-353.5" y="0">E</tspan><tspan font-size="49.5" x="-306.1" y="23.3">vis</tspan><tspan x="-249.2" y="0">/E</tspan><tspan font-size="49.5" x="-179.7" y="23.3">dep</tspan></text>
</g>
<path d="M2712.8 528H2859.1" stroke="#000000" stroke-width="2.4" fill="none"/>
<circle cx="2785.70" cy="528.00" r="7.25" fill="#000000"/>
<text x="2889" y="545.4" font-family="Liberation Sans, sans-serif" font-size="60" fill="#000">Default</text>
<path d="M2712.8 612H2859.1" stroke="#ff0000" stroke-width="2.4" fill="none"/>
<rect x="2778.45" y="604.75" width="14.5" height="14.5" fill="#ff0000"/>
<text x="2889" y="629.4" font-family="Liberation Sans, sans-serif" font-size="60" fill="#000">case A</text>
<path d="M2712.8 696H2859.1" stroke="#00ff00" stroke-width="2.4" fill="none"/>
<path d="M2778.45 688.75h14.5L2785.70 703.25z" fill="#00ff00"/>
<text x="2889" y="713.4" font-family="Liberation Sans, sans-serif" font-size="60" fill="#000">case B</text>
<path d="M2712.8 780H2859.1" stroke="#0000ff" stroke-width="2.4" fill="none"/>
<path d="M2778.45 787.25h14.5L2785.70 772.75z" fill="#0000ff"/>
<text x="2889" y="797.4" font-family="Liberation Sans, sans-serif" font-size="60" fill="#000">case C</text>
<path d="M2712.8 864H2859.1" stroke="#ff00ff" stroke-width="2.4" fill="none"/>
<path d="M2785.70 856.75L2790.52 864.00L2785.70 871.25L2780.88 864.00z" fill="#ff00ff"/>
<text x="2889" y="881.4" font-family="Liberation Sans, sans-serif" font-size="60" fill="#000">case D</text>
<path d="M2712.8 948H2859.1" stroke="#000000" stroke-width="2.4" fill="none" stroke-dasharray="9.7 9.7"/>
<rect x="2783.20" y="946.00" width="5" height="4" fill="#000000"/>
<text x="2889" y="965.4" font-family="Liberation Sans, sans-serif" font-size="60" fill="#000">Total PE <tspan font-size="51" dx="4.5" dy="-5.6" stroke="#000" stroke-width="0.7">@</tspan><tspan dx="4.5" dy="5.6"> </tspan>center</text>
</svg>
</body></html>
